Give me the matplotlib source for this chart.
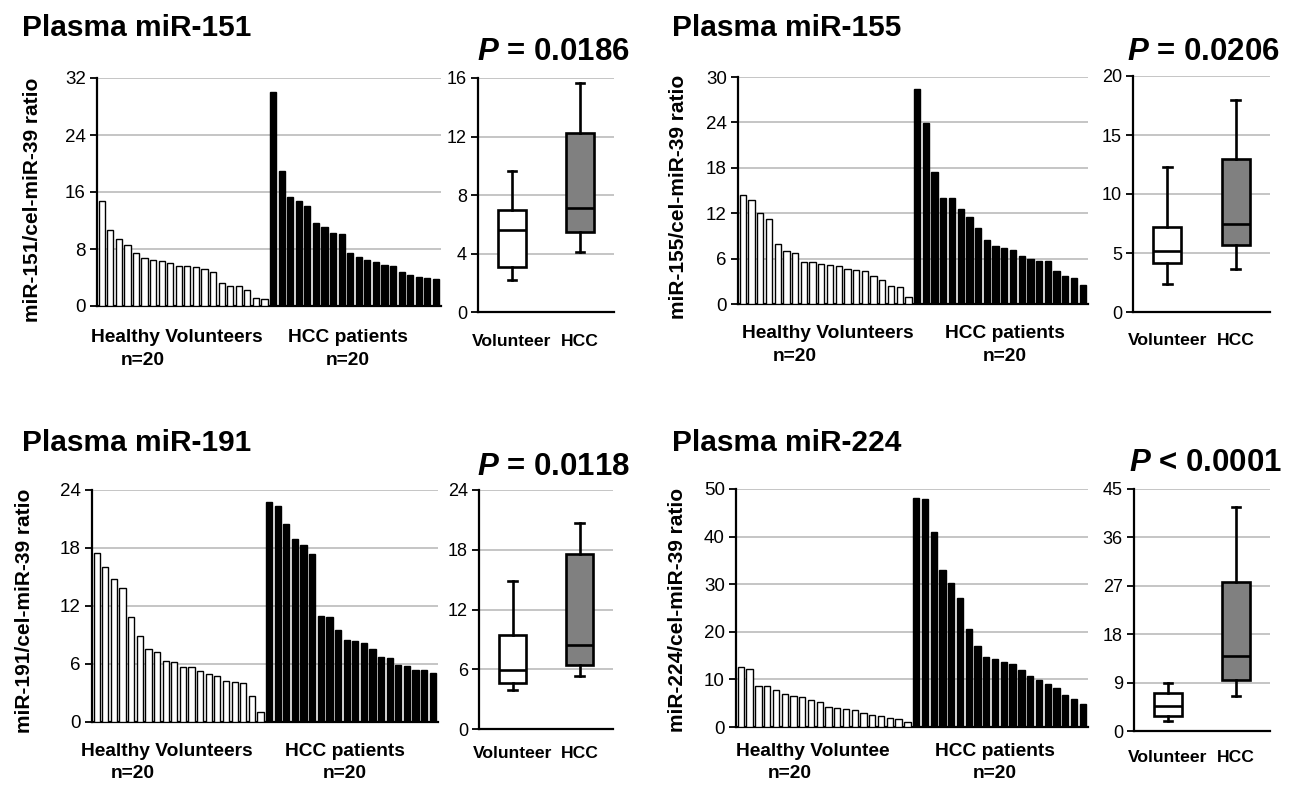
import matplotlib
matplotlib.use("Agg")
import matplotlib.pyplot as plt

plt.rcParams['font.family'] = ['Liberation Sans', 'DejaVu Sans']
plt.rcParams['mathtext.fontset'] = 'custom'
plt.rcParams['mathtext.it'] = 'Liberation Sans:italic:bold'
plt.rcParams['mathtext.rm'] = 'Liberation Sans:bold'

W, H = 1291, 788

# ---------------- data ----------------
titles = ["Plasma miR-151", "Plasma miR-155", "Plasma miR-191", "Plasma miR-224"]
ylabels = ["miR-151/cel-miR-39 ratio", "miR-155/cel-miR-39 ratio",
           "miR-191/cel-miR-39 ratio", "miR-224/cel-miR-39 ratio"]
pvals = ["= 0.0186", "= 0.0206", "= 0.0118", "< 0.0001"]
healthy_labels = ["Healthy Volunteers", "Healthy Volunteers", "Healthy Volunteers", "Healthy Voluntee"]
box_cats = ["Volunteer", "HCC"]

healthy_151 = [14.7, 10.6, 9.45, 8.6, 7.5, 6.8, 6.4, 6.3, 6.1, 5.6, 5.6, 5.5, 5.2, 4.8, 3.2, 2.8, 2.75, 2.3, 1.1, 1.0]
hcc_151 = [30.0, 18.9, 15.3, 14.7, 14.0, 11.7, 11.1, 10.3, 10.15, 7.4, 6.9, 6.5, 6.2, 5.75, 5.65, 4.8, 4.3, 4.1, 4.0, 3.85]

healthy_155 = [14.4, 13.7, 12.07, 11.2, 7.9, 7.0, 6.74, 5.55, 5.55, 5.3, 5.1, 5.0, 4.6, 4.45, 4.36, 3.66, 3.17, 2.4, 2.3, 0.97]
hcc_155 = [28.4, 23.9, 17.4, 14.05, 14.0, 12.6, 11.45, 10.0, 8.5, 7.6, 7.36, 7.1, 6.3, 6.0, 5.73, 5.7, 4.36, 3.66, 3.5, 2.55]

healthy_191 = [17.5, 16.0, 14.8, 13.9, 10.85, 8.9, 7.6, 7.2, 6.3, 6.2, 5.7, 5.66, 5.25, 4.94, 4.8, 4.25, 4.14, 4.04, 2.73, 1.0]
hcc_191 = [22.8, 22.3, 20.5, 18.9, 18.3, 17.4, 10.95, 10.9, 9.5, 8.46, 8.43, 8.18, 7.56, 6.73, 6.63, 5.9, 5.77, 5.42, 5.42, 5.04]

healthy_224 = [12.6, 12.2, 8.6, 8.55, 7.7, 7.0, 6.6, 6.4, 5.7, 5.15, 4.2, 4.0, 3.7, 3.65, 2.95, 2.5, 2.3, 1.9, 1.7, 1.0]
hcc_224 = [48.2, 48.0, 41.0, 33.0, 30.15, 27.0, 20.5, 17.1, 14.7, 14.2, 13.7, 13.25, 11.9, 10.7, 9.8, 9.1, 8.1, 6.8, 5.8, 4.9]

# box stats: [whislo, q1, med, q3, whishi]
box_vol_151 = [2.19, 3.05, 5.58, 6.95, 9.62]
box_hcc_151 = [4.13, 5.45, 7.13, 12.24, 15.68]
box_vol_155 = [2.4, 4.15, 5.2, 7.18, 12.26]
box_hcc_155 = [3.64, 5.68, 7.5, 12.97, 18.0]
box_vol_191 = [3.9, 4.57, 5.94, 9.4, 14.84]
box_hcc_191 = [5.37, 6.38, 8.39, 17.59, 20.64]
box_vol_224 = [1.8, 2.73, 4.65, 7.13, 8.99]
box_hcc_224 = [6.57, 9.49, 13.89, 27.77, 41.6]

bar_yticks = [[0, 8, 16, 24, 32], [0, 6, 12, 18, 24, 30], [0, 6, 12, 18, 24], [0, 10, 20, 30, 40, 50]]
box_yticks = [[0, 4, 8, 12, 16], [0, 5, 10, 15, 20], [0, 6, 12, 18, 24], [0, 9, 18, 27, 36, 45]]

healthy_all = [healthy_151, healthy_155, healthy_191, healthy_224]
hcc_all = [hcc_151, hcc_155, hcc_191, hcc_224]
box_vol_all = [box_vol_151, box_vol_155, box_vol_191, box_vol_224]
box_hcc_all = [box_hcc_151, box_hcc_155, box_hcc_191, box_hcc_224]

# ---------------- layout (pixels) ----------------
bar_rects = [(97, 78, 441, 306), (738, 77, 1088, 304), (92, 490, 438, 722), (736, 489, 1088, 727)]
box_rects = [(478, 78, 614, 312), (1133, 76, 1270, 312), (479, 490, 613, 729), (1134, 489, 1270, 731)]
title_pos = [(22, 28), (672, 28), (22, 443), (672, 443)]
p_pos = [(630, 52), (1280, 52), (630, 467), (1282, 463)]
ylab_x = [42, 688, 34, 687]
ylab_yfrac = [0.465, 0.471, 0.478, 0.49]
lab_y = [337, 333, 752, 752]
n_y = [360, 357, 773, 773]
hv_x = [177, 828, 167, 813]
hv_n_x = [143, 795, 133, 790]
hcc_x = [348, 1005, 345, 995]
boxlab_y = [342, 340, 753, 757]

fig = plt.figure(figsize=(W / 100, H / 100), dpi=100)
fig.patch.set_facecolor('white')

def add_ax(r):
    l, t, rr, b = r
    return fig.add_axes([l / W, 1 - b / H, (rr - l) / W, (b - t) / H])

grid_c = '#c0c0c0'

for k in range(4):
    # ---- bar panel ----
    ax = add_ax(bar_rects[k])
    vals = healthy_all[k] + hcc_all[k]
    n1 = len(healthy_all[k])
    xs = [i + 0.55 for i in range(len(vals))]
    colors = ['white'] * n1 + ['black'] * len(hcc_all[k])
    ax.bar(xs, vals, width=0.72, color=colors, edgecolor='black', linewidth=1.0, zorder=3)
    yt = bar_yticks[k]
    ax.set_ylim(yt[0], yt[-1])
    ax.set_xlim(0, len(vals) + 0.15)
    ax.set_yticks(yt)
    ax.set_yticklabels([str(v) for v in yt], fontsize=13.5)
    ax.set_xticks([])
    for v in yt[1:]:
        ax.axhline(v, color=grid_c, linewidth=1.3, zorder=1)
    for s in ['top', 'right']:
        ax.spines[s].set_visible(False)
    ax.spines['left'].set_linewidth(1.6)
    ax.spines['bottom'].set_linewidth(1.6)
    ax.tick_params(axis='y', length=5, width=1.3, pad=3)
    ax.set_ylabel(ylabels[k], fontsize=15, fontweight='bold')
    ax.yaxis.set_label_coords((ylab_x[k] - bar_rects[k][0]) / (bar_rects[k][2] - bar_rects[k][0]),
                              ylab_yfrac[k])

    # ---- box panel ----
    bx = add_ax(box_rects[k])
    stats = []
    for name, s in zip(box_cats, [box_vol_all[k], box_hcc_all[k]]):
        stats.append(dict(label=name, whislo=s[0], q1=s[1], med=s[2], q3=s[3], whishi=s[4], fliers=[]))
    bp = bx.bxp(stats, positions=[1, 2], widths=0.41, patch_artist=True, showfliers=False,
                boxprops=dict(linewidth=1.9, edgecolor='black'),
                medianprops=dict(color='black', linewidth=1.9),
                whiskerprops=dict(color='black', linewidth=1.9),
                capprops=dict(color='black', linewidth=1.9),
                capwidths=0.13)
    for patch, fc in zip(bp['boxes'], ['white', '#808080']):
        patch.set_facecolor(fc)
        patch.set_zorder(3)
    for key in ['medians', 'whiskers', 'caps']:
        for ln in bp[key]:
            ln.set_zorder(4)
    byt = box_yticks[k]
    bx.set_ylim(byt[0], byt[-1])
    bx.set_xlim(0.5, 2.5)
    bx.set_yticks(byt)
    bx.set_yticklabels([str(v) for v in byt], fontsize=13)
    for v in byt[1:]:
        bx.axhline(v, color=grid_c, linewidth=1.3, zorder=1)
    bx.set_xticks([])
    bb = box_rects[k]
    xw = bb[2] - bb[0]
    for frac, name in zip([0.25, 0.75], box_cats):
        fig.text((bb[0] + frac * xw) / W, 1 - boxlab_y[k] / H, name, fontsize=12.6,
                 fontweight='bold', ha='center', va='center')
    bx.tick_params(axis='y', length=5, width=1.3, pad=3)
    for s in ['top', 'right']:
        bx.spines[s].set_visible(False)
    bx.spines['left'].set_linewidth(1.6)
    bx.spines['bottom'].set_linewidth(1.6)

    # ---- texts ----
    tx, ty = title_pos[k]
    fig.text(tx / W, 1 - ty / H, titles[k], fontsize=21.5, fontweight='bold', ha='left', va='center')
    px, py = p_pos[k]
    fig.text(px / W, 1 - py / H, r"$P$ " + pvals[k], fontsize=22.5, fontweight='bold',
             ha='right', va='center')
    fig.text(hv_x[k] / W, 1 - lab_y[k] / H, healthy_labels[k], fontsize=13.8, fontweight='bold',
             ha='center', va='center')
    fig.text(hv_n_x[k] / W, 1 - n_y[k] / H, "n=20", fontsize=13.8, fontweight='bold',
             ha='center', va='center')
    fig.text(hcc_x[k] / W, 1 - lab_y[k] / H, "HCC patients", fontsize=13.8, fontweight='bold',
             ha='center', va='center')
    fig.text(hcc_x[k] / W, 1 - n_y[k] / H, "n=20", fontsize=13.8, fontweight='bold',
             ha='center', va='center')

fig.savefig("out.png", dpi=100, facecolor='white')
